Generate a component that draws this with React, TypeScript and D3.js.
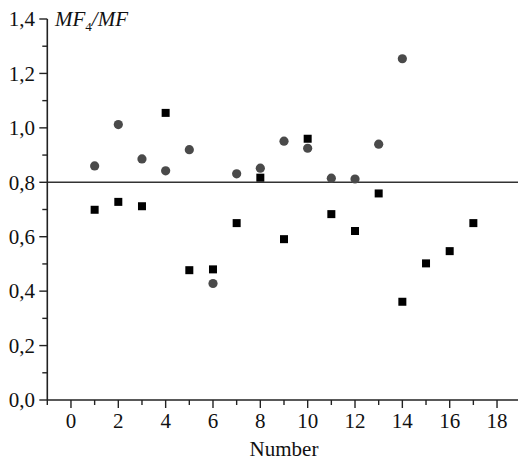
import React from "react";
import * as d3 from "d3";

const squareX = [1, 2, 3, 4, 5, 6, 7, 8, 9, 10, 11, 12, 13, 14, 15, 16, 17];
const squareY = [0.699, 0.728, 0.712, 1.055, 0.477, 0.48, 0.65, 0.817, 0.591, 0.96, 0.683, 0.621, 0.759, 0.361, 0.502, 0.547, 0.65];
const circleX = [1, 2, 3, 4, 5, 6, 7, 8, 9, 10, 11, 12, 13, 14];
const circleY = [0.86, 1.012, 0.886, 0.842, 0.92, 0.428, 0.831, 0.852, 0.951, 0.925, 0.815, 0.812, 0.94, 1.254];
const xMajor = [0, 2, 4, 6, 8, 10, 12, 14, 16, 18];
const xMinor = [-1, 1, 3, 5, 7, 9, 11, 13, 15, 17, 19];
const yMajor = [0, 0.2, 0.4, 0.6, 0.8, 1.0, 1.2, 1.4];
const yMinor = [0.1, 0.3, 0.5, 0.7, 0.9, 1.1, 1.3];
const refLine = 0.8;

const W = 518, H = 460;
const font = "Liberation Serif";

export default function App() {
  const x = d3.scaleLinear().domain([-1, 19]).range([47.3, 520.7]);
  const y = d3.scaleLinear().domain([0, 1.4]).range([400, 19]);
  const fmt = (v: number) => v.toFixed(1).replace(".", ",");
  const axisColor = "#222";
  const ts = { fontFamily: font, fontSize: 21, fill: "#111" };
  return (
    <svg width={W} height={H} style={{ position: "absolute", left: 0, top: 0 }}>
      <rect width={W} height={H} fill="#fff" />
      <line x1={x(-1)} x2={W} y1={y(refLine)} y2={y(refLine)} stroke="#333" strokeWidth={1.5} />
      <line x1={x(-1)} x2={x(-1)} y1={y(1.4)} y2={y(0)} stroke={axisColor} strokeWidth={1.6} />
      {yMajor.map((v) => (
        <g key={"ym" + v}>
          <line x1={x(-1) - 8} x2={x(-1)} y1={y(v)} y2={y(v)} stroke={axisColor} strokeWidth={1.4} />
          <text x={35} y={y(v)} dy="0.35em" textAnchor="end" style={ts}>{fmt(v)}</text>
        </g>
      ))}
      {yMinor.map((v) => (
        <line key={"yn" + v} x1={x(-1) - 5} x2={x(-1)} y1={y(v)} y2={y(v)} stroke={axisColor} strokeWidth={1.4} />
      ))}
      <line x1={x(-1)} x2={W} y1={y(0)} y2={y(0)} stroke={axisColor} strokeWidth={1.6} />
      {xMajor.map((v) => (
        <g key={"xm" + v}>
          <line x1={x(v)} x2={x(v)} y1={y(0)} y2={y(0) + 8} stroke={axisColor} strokeWidth={1.4} />
          <text x={x(v)} y={428} textAnchor="middle" style={ts}>{v}</text>
        </g>
      ))}
      {xMinor.map((v) => (
        <line key={"xn" + v} x1={x(v)} x2={x(v)} y1={y(0)} y2={y(0) + 5} stroke={axisColor} strokeWidth={1.4} />
      ))}
      <text x={284} y={456} textAnchor="middle" style={ts}>Number</text>
      <text x={55} y={26} style={ts}>
        <tspan fontStyle="italic">MF</tspan>
        <tspan fontSize={13} dy={5}>4</tspan>
        <tspan fontStyle="italic" dy={-5}>/MF</tspan>
      </text>
      {circleX.map((v, i) => (
        <circle key={"c" + i} cx={x(v)} cy={y(circleY[i])} r={4.6} fill="#4a4a4a" />
      ))}
      {squareX.map((v, i) => (
        <rect key={"s" + i} x={x(v) - 4} y={y(squareY[i]) - 4} width={8} height={8} fill="#000" />
      ))}
    </svg>
  );
}
